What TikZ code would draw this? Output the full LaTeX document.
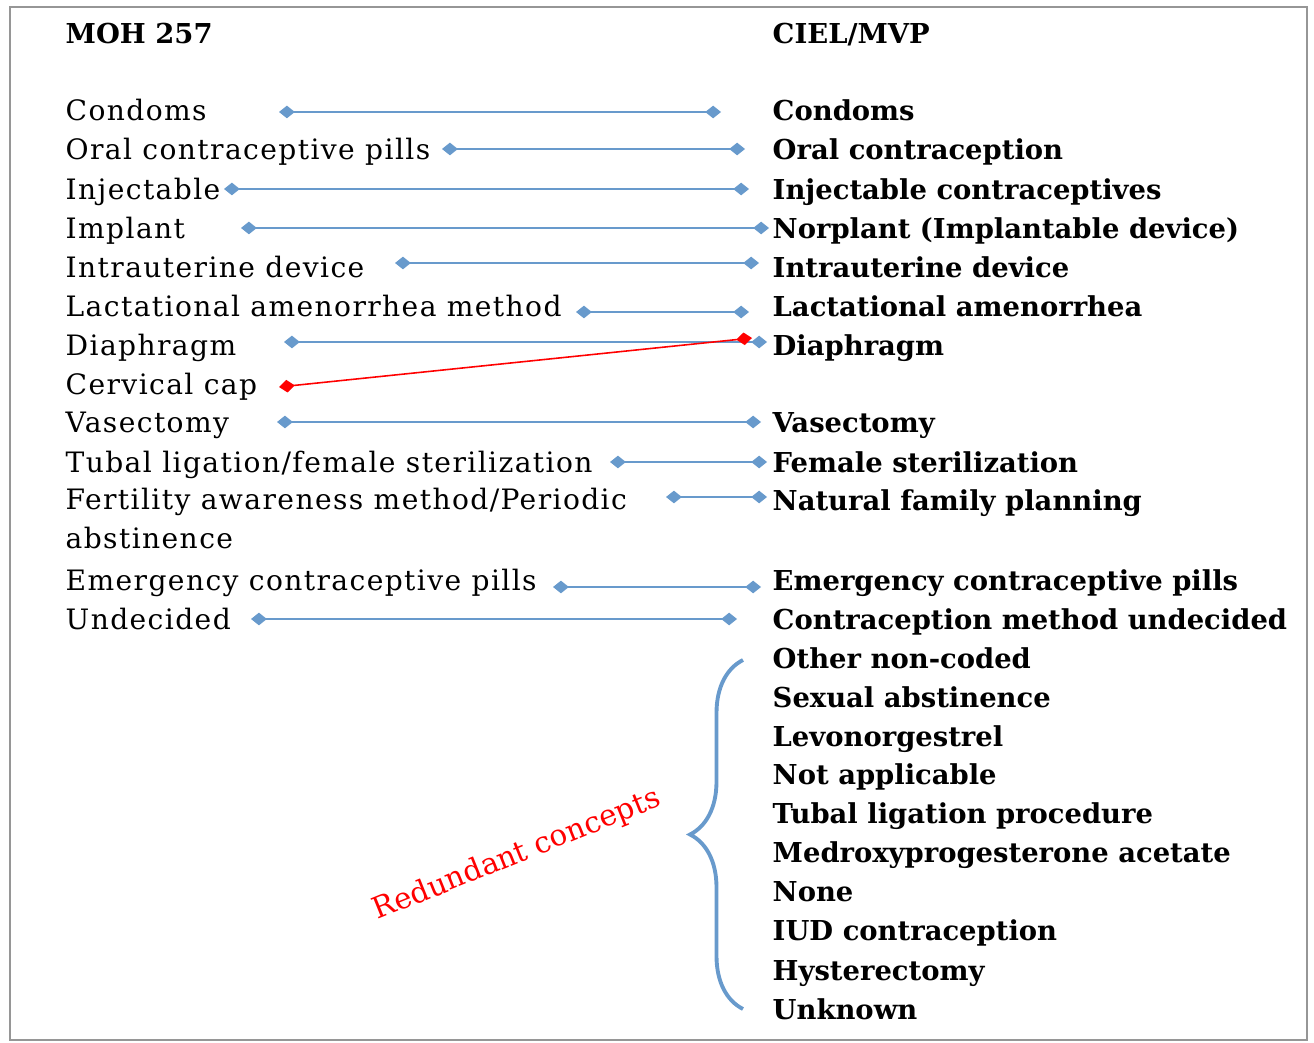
\documentclass[tikz,border=0pt]{standalone}
\usepackage{fontspec}
\setmainfont{DejaVu Serif}
\newfontfamily\leftfont[LetterSpace=5]{DejaVu Serif}
\usetikzlibrary{arrows.meta,decorations.pathreplacing}
\definecolor{linkblue}{RGB}{104,154,204}
\definecolor{framegray}{RGB}{150,150,150}

\begin{document}
\begin{tikzpicture}[x=1cm,y=1cm,
  lefttxt/.style={anchor=west, inner sep=0pt, font=\leftfont\fontsize{8}{11.1}\selectfont, text height=1.6ex, text depth=.45ex},
  righttxt/.style={lefttxt, font=\bfseries\fontsize{7.8}{11.1}\selectfont},
  twoline/.style={anchor=west, inner sep=0pt, align=left, font=\leftfont\fontsize{8}{11.1}\selectfont},
  link/.style={draw=linkblue, line width=0.7pt, {Diamond[length=4.5pt,width=3.6pt]}-{Diamond[length=4.5pt,width=3.6pt]}},
  badlink/.style={link, draw=red, line width=0.45pt}]
\useasboundingbox (0,0) rectangle (13.14,-10.43);
\draw[framegray, line width=0.8pt] (0.10,-0.07) rectangle (13.07,-10.40);

% column heads
\node[righttxt] (hl) at (0.65,-0.33) {MOH 257};
\node[righttxt] (hr) at (7.72,-0.33) {CIEL/MVP};

% MOH 257 side
\node[lefttxt] (l1) at (0.65,-1.10) {Condoms};
\node[lefttxt] (l2) at (0.65,-1.49) {Oral contraceptive pills};
\node[lefttxt] (l3) at (0.65,-1.89) {Injectable};
\node[lefttxt] (l4) at (0.65,-2.28) {Implant};
\node[lefttxt] (l5) at (0.65,-2.67) {Intrauterine device};
\node[lefttxt] (l6) at (0.65,-3.06) {Lactational amenorrhea method};
\node[lefttxt] (l7) at (0.65,-3.45) {Diaphragm};
\node[lefttxt] (l8) at (0.65,-3.84) {Cervical cap};
\node[lefttxt] (l9) at (0.65,-4.22) {Vasectomy};
\node[lefttxt] (l10) at (0.65,-4.62) {Tubal ligation/female sterilization};
\node[twoline] (l11) at (0.65,-5.19) {Fertility awareness method/Periodic\\abstinence};
\node[lefttxt] (l12) at (0.65,-5.80) {Emergency contraceptive pills};
\node[lefttxt] (l13) at (0.65,-6.19) {Undecided};

% CIEL/MVP side
\node[righttxt] (r1) at (7.72,-1.10) {Condoms};
\node[righttxt] (r2) at (7.72,-1.49) {Oral contraception};
\node[righttxt] (r3) at (7.72,-1.89) {Injectable contraceptives};
\node[righttxt] (r4) at (7.72,-2.28) {Norplant (Implantable device)};
\node[righttxt] (r5) at (7.72,-2.67) {Intrauterine device};
\node[righttxt] (r6) at (7.72,-3.06) {Lactational amenorrhea};
\node[righttxt] (r7) at (7.72,-3.45) {Diaphragm};
\node[righttxt] (r9) at (7.72,-4.22) {Vasectomy};
\node[righttxt] (r10) at (7.72,-4.62) {Female sterilization};
\node[righttxt] (r11) at (7.72,-5.00) {Natural family planning};
\node[righttxt] (r12) at (7.72,-5.80) {Emergency contraceptive pills};
\node[righttxt] (r13) at (7.72,-6.19) {Contraception method undecided};
\node[righttxt] (r14) at (7.72,-6.58) {Other non-coded};
\node[righttxt] (r15) at (7.72,-6.97) {Sexual abstinence};
\node[righttxt] (r16) at (7.72,-7.36) {Levonorgestrel};
\node[righttxt] (r17) at (7.72,-7.74) {Not applicable};
\node[righttxt] (r18) at (7.72,-8.13) {Tubal ligation procedure};
\node[righttxt] (r19) at (7.72,-8.52) {Medroxyprogesterone acetate};
\node[righttxt] (r20) at (7.72,-8.91) {None};
\node[righttxt] (r21) at (7.72,-9.30) {IUD contraception};
\node[righttxt] (r22) at (7.72,-9.70) {Hysterectomy};
\node[righttxt] (r23) at (7.72,-10.09) {Unknown};

% mappings
\draw[link] ([shift={(2.14,-0.02)}]l1.west) -- ([shift={(-0.51,-0.02)}]r1.west);
\draw[link] ([xshift=3.77cm]l2.west) -- ([xshift=-0.27cm]r2.west);
\draw[link] ([xshift=1.59cm]l3.west) -- ([xshift=-0.23cm]r3.west);
\draw[link] ([xshift=1.76cm]l4.west) -- ([xshift=-0.03cm]r4.west);
\draw[link] ([shift={(3.30,0.04)}]l5.west) -- ([shift={(-0.13,0.04)}]r5.west);
\draw[link] ([shift={(5.11,-0.06)}]l6.west) -- ([shift={(-0.23,-0.06)}]r6.west);
\draw[link] ([shift={(2.19,0.03)}]l7.west) -- ([shift={(-0.05,0.03)}]r7.west);
\draw[badlink] ([shift={(2.14,-0.03)}]l8.west) -- ([shift={(-0.20,0.07)}]r7.west);
\draw[link] ([xshift=2.12cm]l9.west) -- ([xshift=-0.11cm]r9.west);
\draw[link] ([xshift=5.45cm]l10.west) -- ([xshift=-0.05cm]r10.west);
\draw[link] ([shift={(6.01,0.22)}]l11.west) -- ([shift={(-0.05,0.03)}]r11.west);
\draw[link] ([shift={(4.88,-0.07)}]l12.west) -- ([shift={(-0.11,-0.07)}]r12.west);
\draw[link] ([xshift=1.86cm]l13.west) -- ([xshift=-0.35cm]r13.west);

% redundant group
\draw[linkblue, line width=1.1pt, decorate, decoration={brace, amplitude=0.53cm}]
  ([shift={(-0.29,0.0)}]r23.west) -- ([shift={(-0.29,-0.02)}]r14.west);
\node[rotate=22, text=red, font=\fontsize{8.4}{10}\selectfont] (redund) at (5.17,-8.55) {Redundant concepts};
\end{tikzpicture}
\end{document}
